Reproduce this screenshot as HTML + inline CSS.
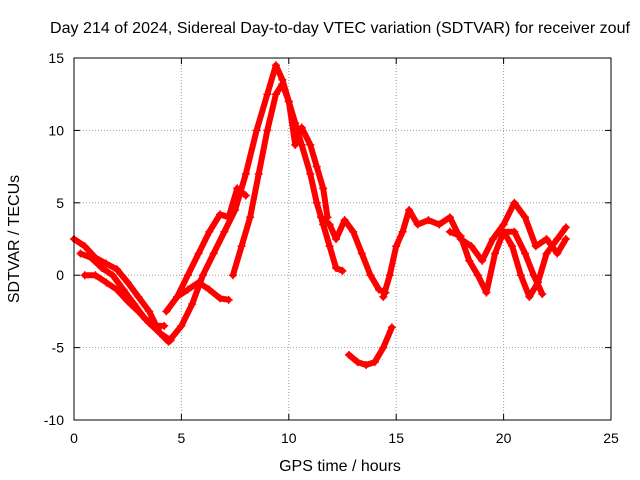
<!DOCTYPE html>
<html><head><meta charset="utf-8"><style>
body{margin:0;background:#fff;}
svg{display:block;font-family:"Liberation Sans",sans-serif;}
</style></head><body>
<svg id="chart" width="640" height="480" viewBox="0 0 640 480">
<text x="340" y="33" text-anchor="middle" font-size="16" textLength="580">Day 214 of 2024, Sidereal Day-to-day VTEC variation (SDTVAR) for receiver zouf</text>
<text x="340" y="471" text-anchor="middle" font-size="16">GPS time / hours</text>
<text x="19" y="239" text-anchor="middle" font-size="16" transform="rotate(-90 19 239)">SDTVAR / TECUs</text>
<g id="grid"></g><g id="marks"></g><g id="axes"></g>
</svg>
<script>
const xTicks=[0,5,10,15,20,25];
const yTicks=[-10,-5,0,5,10,15];
const seriesA_t=[0,0.5,1,1.5,2,2.5,3,3.5,4,4.4,5,5.5,6,6.5,7,7.5,8,8.5,9,9.4,9.7,10,10.3,10.6,11,11.3,11.6,11.9,12.2,12.5];
const seriesA_v=[2.5,2,1.2,0.8,0.4,-0.5,-1.5,-2.5,-4,-4.6,-3.5,-2,0,1.5,3,4.5,7,10,12.5,14.5,13.5,12,10.5,9,7,5,3.5,2,0.5,0.3];
const seriesB_t=[7.4,7.8,8.2,8.6,9,9.4,9.7,10,10.3,10.6,11,11.3,11.6,11.8];
const seriesB_v=[0,2,4,7,10,12.5,13.2,12,9,10.2,9,7.5,6,4];
const seriesC_t=[0.5,1,1.5,2,2.5,3,3.5,4,4.5];
const seriesC_v=[0,0,-0.5,-1,-1.8,-2.5,-3.3,-4,-4.5];
const seriesD_t=[0.3,0.8,1.3,1.8,2.3,2.8,3.3,3.8,4.2];
const seriesD_v=[1.5,1.2,0.5,0,-1,-2,-3,-3.5,-3.5];
const seriesE_t=[4.3,4.8,5.3,5.8,6.3,6.8,7.2,7.6,8];
const seriesE_v=[-2.5,-1.5,0,1.5,3,4.2,4,6,5.5];
const seriesF_t=[4.8,5.3,5.8,6.3,6.8,7.2];
const seriesF_v=[-1.5,-1,-0.5,-1,-1.6,-1.7];
const seriesG_t=[11.5,11.9,12.2,12.6,13,13.4,13.8,14.2,14.5];
const seriesG_v=[4,3.5,2.5,3.8,3,1.5,0,-1,-1.2];
const seriesH_t=[12.8,13.2,13.6,14,14.4,14.8];
const seriesH_v=[-5.5,-6,-6.2,-6,-5,-3.6];
const seriesI_t=[14.4,14.7,15,15.3,15.6,16,16.5,17,17.5,18,18.5,19,19.5,20,20.5,21,21.5,22,22.5,22.9];
const seriesI_v=[-1.5,0,2,3,4.5,3.5,3.8,3.5,4,2.5,2,1,2.5,3.5,5,4,2,2.5,1.5,2.5];
const seriesJ_t=[17.5,18,18.4,18.8,19.2,19.6,20,20.4,20.8,21.2,21.6,22,22.5,22.9];
const seriesJ_v=[3,2.7,1,0,-1.2,1.5,3,2,0,-1.5,-0.5,1.5,2.5,3.3];
const seriesK_t=[20,20.5,21,21.4,21.8];
const seriesK_v=[3,3,1.5,0,-1.3];
const allSeries=[[seriesA_t,seriesA_v],[seriesB_t,seriesB_v],[seriesC_t,seriesC_v],[seriesD_t,seriesD_v],[seriesE_t,seriesE_v],[seriesF_t,seriesF_v],[seriesG_t,seriesG_v],[seriesH_t,seriesH_v],[seriesI_t,seriesI_v],[seriesJ_t,seriesJ_v],[seriesK_t,seriesK_v]];
const X0=74,X1=611,Y0=420,Y1=58;
function xs(t){return X0+(t-0)/(25-0)*(X1-X0);}
function ys(v){return Y0-(v+10)/(15+10)*(Y0-Y1);}
const NS="http://www.w3.org/2000/svg";
function mk(tag,attrs,parent){const e=document.createElementNS(NS,tag);for(const k in attrs)e.setAttribute(k,attrs[k]);parent.appendChild(e);return e;}
const grid=document.getElementById('grid'),axes=document.getElementById('axes'),marks=document.getElementById('marks');
xTicks.forEach(t=>{
 if(t>0&&t<25){const l=mk('line',{x1:xs(t),x2:xs(t),y1:Y0,y2:Y1,stroke:'#a0a0a0','stroke-dasharray':'1,2','stroke-width':1},grid);
 
 }
 const tx=mk('text',{x:xs(t),y:Y0+23,'text-anchor':'middle','font-size':14},axes);tx.textContent=t;
 
 
 mk('line',{x1:xs(t),x2:xs(t),y1:Y0,y2:Y0-6,stroke:'#000'},axes);
 mk('line',{x1:xs(t),x2:xs(t),y1:Y1,y2:Y1+6,stroke:'#000'},axes);
});
yTicks.forEach(v=>{
 if(v>-10&&v<15){const l=mk('line',{x1:X0,x2:X1,y1:ys(v),y2:ys(v),stroke:'#a0a0a0','stroke-dasharray':'1,2','stroke-width':1},grid);
 
 }
 const tx=mk('text',{x:X0-10,y:ys(v)+5,'text-anchor':'end','font-size':14},axes);tx.textContent=v;
 
 
 mk('line',{x1:X0,x2:X0+6,y1:ys(v),y2:ys(v),stroke:'#000'},axes);
 mk('line',{x1:X1,x2:X1-6,y1:ys(v),y2:ys(v),stroke:'#000'},axes);
});
const fr=mk('rect',{x:X0,y:Y1,width:X1-X0,height:Y0-Y1,fill:'none',stroke:'#000'},axes);


allSeries.forEach(([ts,vs],i)=>{
 const pts=ts.map((t,j)=>xs(t)+','+ys(vs[j])).join(' ');
 const pl=mk('polyline',{points:pts,fill:'none',stroke:'#f00','stroke-width':6,'stroke-linejoin':'round','stroke-linecap':'round'},marks);
 
 
 ts.forEach((t,j)=>{const x=xs(t),y=ys(vs[j]);
  const p=mk('path',{d:`M${x-4},${y}H${x+4}M${x},${y-4}V${y+4}`,stroke:'#f00','stroke-width':1.5},marks);
  
  
 });
});
</script>
</body></html>
